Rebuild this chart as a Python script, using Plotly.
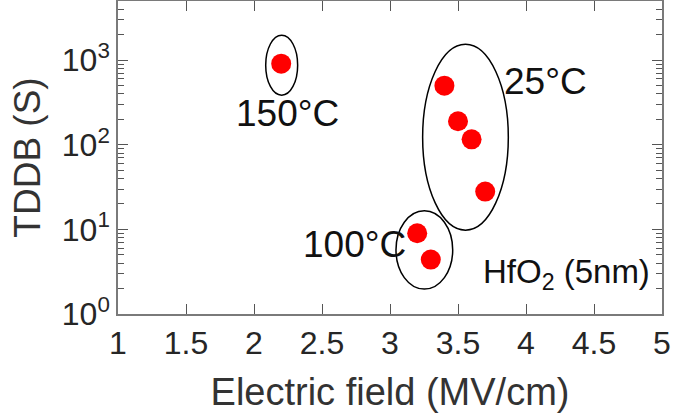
import numpy as np
import plotly.graph_objects as go

# Data (electric field in MV/cm, TDDB in s)
field_150 = [2.2]
tddb_150 = [910]
field_100 = [3.2, 3.3]
tddb_100 = [9.0, 4.4]
field_25 = [3.4, 3.5, 3.6, 3.7]
tddb_25 = [500, 190, 116, 28]

x_ticks = [1, 1.5, 2, 2.5, 3, 3.5, 4, 4.5, 5]
x_tick_labels = ["1", "1.5", "2", "2.5", "3", "3.5", "4", "4.5", "5"]
y_ticks = [1, 10, 100, 1000]
y_tick_labels = ["10<sup>0</sup>", "10<sup>1</sup>", "10<sup>2</sup>", "10<sup>3</sup>"]

FONT = "Liberation Sans, Arial, sans-serif"
RED = "#ff0000"

fig = go.Figure()
fig.add_trace(go.Scatter(
    x=field_150 + field_100 + field_25,
    y=tddb_150 + tddb_100 + tddb_25,
    mode="markers",
    marker=dict(color=RED, size=20, line=dict(width=0)),
    showlegend=False,
))

# group ellipses (x0, x1, y0, y1 in data units)
ellipses = [
    (2.086, 2.321, 386, 1974),
    (3.240, 3.870, 9.8, 1545),
    (3.044, 3.461, 1.97, 16.6),
]
for x0, x1, y0, y1 in ellipses:
    fig.add_shape(type="circle", xref="x", yref="y", x0=x0, x1=x1, y0=y0, y1=y1,
                  line=dict(color="black", width=1.5), layer="below")

labels = [
    ("150°C", 2.243, 235, "center", 37),
    ("25°C", 4.147, 560, "center", 37),
    ("100°C", 2.739, 6.6, "center", 37),
    ("HfO<sub>2</sub> (5nm)", 4.925, 3.0, "right", 33),
]
for text, x, y, xa, fs in labels:
    fig.add_annotation(x=x, y=np.log10(y), xref="x", yref="y", text=text,
                       showarrow=False, xanchor=xa, yanchor="middle",
                       font=dict(family=FONT, size=fs, color="#111111"))

axis_common = dict(
    showline=True, linecolor="#7a7a7a", linewidth=1.5, mirror="ticks",
    ticks="inside", ticklen=10, tickwidth=1.2, tickcolor="#555555",
    showgrid=False, zeroline=False, automargin=False,
    tickfont=dict(family=FONT, size=32, color="#262626"),
)

fig.update_xaxes(
    range=[1, 5], tickvals=x_ticks, ticktext=x_tick_labels,
    title=dict(text="Electric field (MV/cm)", font=dict(family=FONT, size=38, color="#333333"), standoff=18),
    **axis_common,
)
fig.update_yaxes(
    type="log", range=[0, 3.7], tickvals=y_ticks, ticktext=y_tick_labels,
    title=dict(text="TDDB (S)", font=dict(family=FONT, size=37, color="#333333"), standoff=10),
    minor=dict(ticks="inside", ticklen=6, tickwidth=1, tickcolor="#555555",
               tickvals=[v * m for v in [1, 10, 100, 1000] for m in range(2, 10)]),
    **axis_common,
)

fig.update_layout(
    width=673, height=419,
    margin=dict(l=118, r=11, t=1, b=105),
    plot_bgcolor="white", paper_bgcolor="white",
    font=dict(family=FONT),
)

fig.write_html("out.html", config={"displayModeBar": False},
               post_script="document.body.style.margin='0px';")
